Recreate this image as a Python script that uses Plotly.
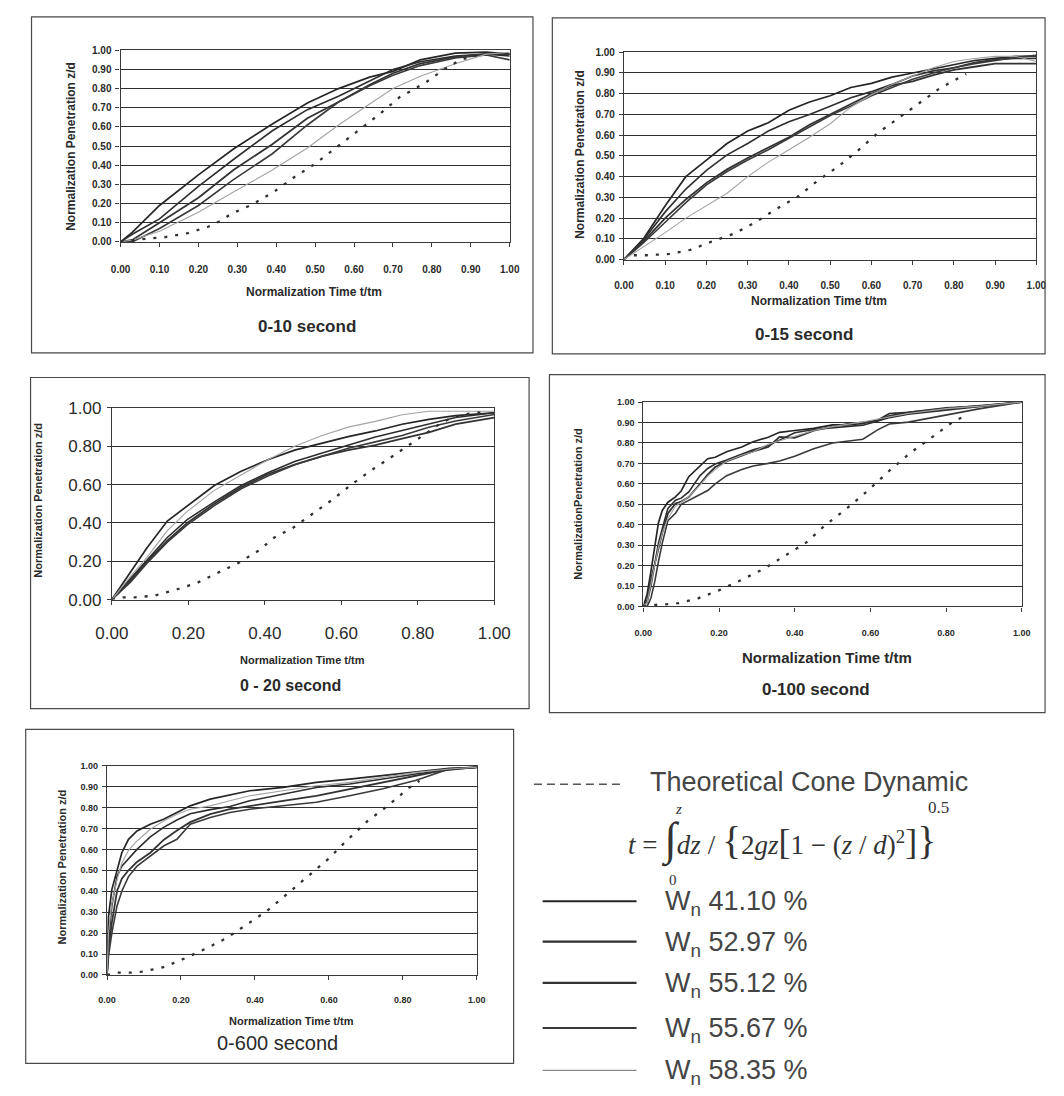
import plotly.graph_objects as go

W, H = 1064, 1096

# ---------------- data ----------------
series_names = ["W<sub>n</sub> 41.10 %", "W<sub>n</sub> 52.97 %", "W<sub>n</sub> 55.12 %",
                "W<sub>n</sub> 55.67 %", "W<sub>n</sub> 58.35 %"]
panel_titles = ["0-10 second", "0-15 second", "0 - 20 second", "0-100 second", "0-600 second"]

# Panel 1 : 0-10 second
p1_x = [0, 0.03, 0.10, 0.20, 0.29, 0.39, 0.48, 0.56, 0.64, 0.70, 0.77, 0.86, 0.94, 1.00]
p1_a = [0, 0.05, 0.19, 0.35, 0.485, 0.615, 0.725, 0.80, 0.86, 0.89, 0.95, 0.985, 0.99, 0.98]
p1_b = [0, 0.04, 0.12, 0.29, 0.43, 0.58, 0.69, 0.76, 0.84, 0.90, 0.94, 0.97, 0.98, 0.97]
p1_c = [0, 0.01, 0.10, 0.23, 0.375, 0.51, 0.645, 0.73, 0.82, 0.88, 0.93, 0.965, 0.98, 0.98]
p1_d = [0, 0.00, 0.07, 0.19, 0.325, 0.46, 0.61, 0.73, 0.815, 0.87, 0.92, 0.96, 0.975, 0.95]
p1_e = [0, 0.01, 0.055, 0.155, 0.26, 0.375, 0.49, 0.61, 0.72, 0.80, 0.865, 0.93, 0.98, 0.99]
p1_tx = [0, 0.043, 0.112, 0.173, 0.225, 0.255, 0.285, 0.337, 0.393, 0.445, 0.501, 0.557, 0.608,
         0.665, 0.717, 0.783, 0.830, 0.873, 0.916]
p1_ty = [0, 0.012, 0.024, 0.046, 0.079, 0.108, 0.147, 0.194, 0.260, 0.336, 0.409, 0.497, 0.581,
         0.666, 0.755, 0.83, 0.899, 0.950, 0.975]

# Panel 2 : 0-15 second
p2_x = [0, 0.047, 0.10, 0.15, 0.20, 0.25, 0.30, 0.35, 0.40, 0.45, 0.50, 0.55, 0.60, 0.65, 0.70,
        0.75, 0.80, 0.85, 0.90, 0.95, 1.00]
p2_a = [0, 0.10, 0.26, 0.40, 0.48, 0.56, 0.62, 0.66, 0.72, 0.76, 0.79, 0.83, 0.85, 0.88, 0.90,
        0.92, 0.94, 0.96, 0.97, 0.98, 0.98]
p2_b = [0, 0.095, 0.23, 0.34, 0.43, 0.505, 0.56, 0.62, 0.665, 0.70, 0.74, 0.78, 0.81, 0.845, 0.885,
        0.91, 0.925, 0.95, 0.965, 0.97, 0.97]
p2_c = [0, 0.087, 0.20, 0.29, 0.37, 0.435, 0.49, 0.54, 0.59, 0.65, 0.70, 0.75, 0.80, 0.84, 0.86,
        0.89, 0.915, 0.93, 0.945, 0.945, 0.945]
p2_d = [0, 0.08, 0.18, 0.275, 0.36, 0.425, 0.48, 0.53, 0.585, 0.64, 0.695, 0.74, 0.79, 0.83, 0.87,
        0.90, 0.925, 0.945, 0.96, 0.975, 0.985]
p2_e = [0, 0.06, 0.13, 0.20, 0.26, 0.32, 0.40, 0.47, 0.53, 0.59, 0.655, 0.735, 0.795, 0.845, 0.885,
        0.925, 0.955, 0.97, 0.98, 0.98, 0.955]
p2_tx = [0.024, 0.055, 0.110, 0.161, 0.213, 0.268, 0.319, 0.370, 0.421, 0.469, 0.520, 0.567, 0.614,
         0.669, 0.717, 0.768, 0.795, 0.83]
p2_ty = [0.021, 0.021, 0.027, 0.047, 0.087, 0.126, 0.180, 0.245, 0.303, 0.379, 0.450, 0.525, 0.608,
         0.687, 0.758, 0.829, 0.858, 0.895]

# Panel 3 : 0-20 second
p3_x = [0, 0.048, 0.092, 0.145, 0.197, 0.268, 0.338, 0.408, 0.478, 0.548, 0.618, 0.689, 0.759,
        0.829, 0.899, 1.0]
p3_a = [0, 0.139, 0.27, 0.41, 0.49, 0.595, 0.67, 0.73, 0.78, 0.815, 0.85, 0.88, 0.915, 0.94, 0.96, 0.975]
p3_b = [0, 0.105, 0.206, 0.324, 0.417, 0.51, 0.595, 0.662, 0.72, 0.764, 0.806, 0.848, 0.882, 0.916, 0.95, 0.975]
p3_c = [0, 0.10, 0.198, 0.307, 0.40, 0.50, 0.586, 0.654, 0.704, 0.747, 0.78, 0.806, 0.84, 0.873, 0.916, 0.95]
p3_d = [0, 0.09, 0.19, 0.30, 0.39, 0.49, 0.578, 0.645, 0.704, 0.747, 0.79, 0.823, 0.856, 0.899, 0.932, 0.966]
p3_e = [0, 0.12, 0.22, 0.36, 0.46, 0.57, 0.65, 0.73, 0.80, 0.855, 0.90, 0.93, 0.965, 0.983, 0.983, 0.983]
p3_tx = [0, 0.031, 0.061, 0.110, 0.171, 0.224, 0.276, 0.329, 0.382, 0.425, 0.474, 0.526, 0.579, 0.627,
         0.680, 0.732, 0.776, 0.829, 0.860, 0.89, 0.934, 0.978]
p3_ty = [0, 0.012, 0.012, 0.020, 0.054, 0.088, 0.139, 0.189, 0.253, 0.324, 0.375, 0.449, 0.525, 0.601,
         0.677, 0.745, 0.804, 0.878, 0.920, 0.95, 0.97, 0.98]

# Panel 4 : 0-100 second
p4_x = [0, 0.01, 0.02, 0.03, 0.04, 0.05, 0.065, 0.085, 0.10, 0.12, 0.15, 0.17, 0.19, 0.22, 0.26,
        0.29, 0.33, 0.36, 0.40, 0.45, 0.50, 0.54, 0.58, 0.62, 0.65, 0.70, 0.80, 0.89, 1.0]
p4_a = [0, 0.06, 0.17, 0.30, 0.41, 0.47, 0.51, 0.536, 0.565, 0.635, 0.69, 0.723, 0.73, 0.757, 0.78,
        0.806, 0.828, 0.852, 0.861, 0.871, 0.888, 0.888, 0.895, 0.912, 0.944, 0.950, 0.968, 0.984, 1.0]
p4_b = [0, 0.02, 0.10, 0.21, 0.31, 0.38, 0.48, 0.52, 0.53, 0.56, 0.64, 0.675, 0.697, 0.716, 0.746,
        0.767, 0.787, 0.815, 0.85, 0.866, 0.874, 0.88, 0.887, 0.907, 0.924, 0.941, 0.96, 0.977, 1.0]
p4_c = [0, 0.03, 0.13, 0.21, 0.29, 0.36, 0.455, 0.504, 0.513, 0.535, 0.60, 0.645, 0.682, 0.71, 0.738,
        0.759, 0.78, 0.83, 0.825, 0.86, 0.88, 0.893, 0.90, 0.91, 0.933, 0.95, 0.972, 0.98, 1.0]
p4_d = [0, 0.0, 0.04, 0.12, 0.22, 0.31, 0.42, 0.456, 0.50, 0.52, 0.548, 0.567, 0.60, 0.64, 0.67,
        0.687, 0.70, 0.712, 0.735, 0.772, 0.80, 0.808, 0.818, 0.865, 0.893, 0.902, 0.936, 0.968, 1.0]
p4_e = [0, 0.02, 0.11, 0.20, 0.29, 0.36, 0.43, 0.49, 0.51, 0.537, 0.595, 0.638, 0.67, 0.71, 0.74,
        0.756, 0.794, 0.81, 0.833, 0.861, 0.88, 0.89, 0.903, 0.917, 0.928, 0.944, 0.968, 0.98, 1.0]
p4_tx = [0, 0.033, 0.063, 0.093, 0.145, 0.201, 0.257, 0.318, 0.374, 0.430, 0.482, 0.538, 0.594,
         0.650, 0.706, 0.758, 0.819, 0.845]
p4_ty = [0, 0.008, 0.011, 0.016, 0.040, 0.080, 0.128, 0.184, 0.248, 0.312, 0.40, 0.48, 0.568,
         0.664, 0.752, 0.824, 0.904, 0.928]

# Panel 5 : 0-600 second
p5_x = [0, 0.004, 0.013, 0.027, 0.04, 0.058, 0.081, 0.117, 0.153, 0.189, 0.225, 0.279, 0.332,
        0.386, 0.476, 0.566, 0.656, 0.746, 0.836, 0.925, 1.0]
p5_a = [0, 0.28, 0.408, 0.504, 0.584, 0.648, 0.688, 0.72, 0.744, 0.776, 0.808, 0.84, 0.86, 0.88,
        0.896, 0.92, 0.936, 0.952, 0.971, 0.987, 0.992]
p5_b = [0, 0.16, 0.33, 0.47, 0.52, 0.555, 0.60, 0.66, 0.705, 0.74, 0.77, 0.79, 0.805, 0.832,
        0.864, 0.896, 0.912, 0.936, 0.96, 0.98, 0.992]
p5_c = [0, 0.12, 0.25, 0.40, 0.46, 0.50, 0.54, 0.584, 0.645, 0.69, 0.73, 0.768, 0.792, 0.808,
        0.832, 0.856, 0.888, 0.92, 0.952, 0.984, 0.992]
p5_d = [0, 0.09, 0.20, 0.33, 0.40, 0.47, 0.52, 0.568, 0.616, 0.648, 0.72, 0.752, 0.776, 0.792,
        0.81, 0.825, 0.856, 0.89, 0.93, 0.984, 0.992]
p5_e = [0, 0.20, 0.34, 0.456, 0.535, 0.595, 0.64, 0.696, 0.736, 0.768, 0.792, 0.808, 0.832, 0.856,
        0.88, 0.904, 0.92, 0.944, 0.968, 0.984, 0.992]
p5_tx = [0, 0.027, 0.063, 0.094, 0.153, 0.211, 0.270, 0.323, 0.377, 0.431, 0.485, 0.539, 0.597,
         0.647, 0.705, 0.759, 0.818, 0.845]
p5_ty = [0, 0.011, 0.011, 0.016, 0.037, 0.080, 0.128, 0.176, 0.24, 0.304, 0.384, 0.464, 0.552,
         0.64, 0.736, 0.808, 0.896, 0.928]

# ---------------- layout helpers ----------------
def X(p):
    return p / W


def Y(p):
    return 1 - p / H


panels = [
    dict(x=p1_x, ys=[p1_a, p1_b, p1_c, p1_d, p1_e], tx=p1_tx, ty=p1_ty,
         plot=(107, 42, 509, 237), box=(15, 8, 533, 350), xd=0.1, yd=0.1, tick=10, tstand=14,
         ytitle="Normalization Penetration z/d", yt=(55, 140, 12),
         xt=(307, 288, 12), st=(300, 323, 17), sw="bold"),
    dict(x=p2_x, ys=[p2_a, p2_b, p2_c, p2_d, p2_e], tx=p2_tx, ty=p2_ty,
         plot=(627, 44, 1053, 255), box=(553, 9, 1062, 351), xd=0.1, yd=0.1, tick=10, tstand=12,
         ytitle="Normalization Penetration z/d", yt=(582, 148, 12),
         xt=(828, 297, 12), st=(813, 331, 17), sw="bold"),
    dict(x=p3_x, ys=[p3_a, p3_b, p3_c, p3_d, p3_e], tx=p3_tx, ty=p3_ty,
         plot=(98, 406, 493, 601), box=(14, 375, 529, 712), xd=0.2, yd=0.2, tick=17, tstand=14,
         ytitle="Normalization Penetration z/d", yt=(22, 500, 11),
         xt=(295, 662, 11), st=(283, 688, 16), sw="bold"),
    dict(x=p4_x, ys=[p4_a, p4_b, p4_c, p4_d, p4_e], tx=p4_tx, ty=p4_ty,
         plot=(647, 400, 1038, 608), box=(550, 372, 1062, 716), xd=0.2, yd=0.1, tick=9, tstand=14,
         ytitle="NormalizationPenetration z/d", yt=(580, 503, 11),
         xt=(837, 660, 15), st=(825, 692, 17), sw="bold"),
    dict(x=p5_x, ys=[p5_a, p5_b, p5_c, p5_d, p5_e], tx=p5_tx, ty=p5_ty,
         plot=(93, 770, 475, 983), box=(9, 733, 513, 1073), xd=0.2, yd=0.1, tick=9, tstand=12,
         ytitle="Normalization Penetration z/d", yt=(46, 873, 11),
         xt=(284, 1030, 11), st=(269, 1052, 20), sw="normal"),
]

line_colors = ["#262626", "#2e2e2e", "#333333", "#3a3a3a", "#a3a3a3"]
line_widths = [1.7, 1.6, 1.8, 1.6, 1.1]

fig = go.Figure()
shapes = []
annotations = []
layout_axes = {}


def note(x, y, text, font, xanchor="center", yanchor="middle", **kw):
    annotations.append(dict(xref="paper", yref="paper", x=X(x), y=Y(y), text=text,
                            showarrow=False, font=font, xanchor=xanchor, yanchor=yanchor, **kw))


for i, p in enumerate(panels, start=1):
    xa = "x" if i == 1 else f"x{i}"
    ya = "y" if i == 1 else f"y{i}"
    x0, y0, x1, y1 = p["plot"]
    for k, ys in enumerate(p["ys"]):
        fig.add_trace(go.Scatter(x=p["x"], y=ys, mode="lines", xaxis=xa, yaxis=ya,
                                 line=dict(color=line_colors[k], width=line_widths[k]),
                                 name=series_names[k], showlegend=False))
    fig.add_trace(go.Scatter(x=p["tx"], y=p["ty"], mode="lines", xaxis=xa, yaxis=ya,
                             line=dict(color="#303030", width=2.3, dash="3px,8px"),
                             name="Theoretical Cone Dynamic", showlegend=False))
    tf = dict(family="Liberation Sans, Arial", size=p["tick"], color="#2a2a2a",
              weight="bold" if p["tick"] < 12 else "normal")
    kx = "xaxis" if i == 1 else f"xaxis{i}"
    ky = "yaxis" if i == 1 else f"yaxis{i}"
    layout_axes[kx] = dict(domain=[X(x0), X(x1)], anchor=ya, range=[0, 1], dtick=p["xd"],
                           tick0=0, tickformat=".2f", showgrid=False, zeroline=False,
                           showline=True, mirror=True, linecolor="#3a3a3a", linewidth=1.2,
                           ticks="outside", ticklen=4, tickcolor="#3a3a3a",
                           tickfont=tf, ticklabelstandoff=p["tstand"], fixedrange=True)
    layout_axes[ky] = dict(domain=[Y(y1), Y(y0)], anchor=xa, range=[0, 1], dtick=p["yd"],
                           tick0=0, tickformat=".2f", showgrid=True, gridcolor="#2f2f2f",
                           gridwidth=1, zeroline=False, showline=True, mirror=True,
                           linecolor="#3a3a3a", linewidth=1.2, ticks="outside", ticklen=4,
                           tickcolor="#3a3a3a", tickfont=tf, ticklabelstandoff=2,
                           fixedrange=True)
    bx0, by0, bx1, by1 = p["box"]
    shapes.append(dict(type="rect", xref="paper", yref="paper", x0=X(bx0), x1=X(bx1),
                       y0=Y(by1), y1=Y(by0), line=dict(color="#4a4a4a", width=1.2)))
    yx, yy, ys_ = p["yt"]
    note(yx, yy, p["ytitle"], dict(family="Liberation Sans, Arial", size=ys_, color="#2a2a2a",
                                   weight="bold"), textangle=-90)
    tx_, ty_, ts_ = p["xt"]
    note(tx_, ty_, "Normalization Time t/tm",
         dict(family="Liberation Sans, Arial", size=ts_, color="#2a2a2a", weight="bold"))
    sx, sy, ss = p["st"]
    note(sx, sy, panel_titles[i - 1],
         dict(family="Liberation Sans, Arial", size=ss, color="#2a2a2a", weight=p["sw"]))

# ---------------- hand-drawn legend ----------------
leg_font = dict(family="Liberation Sans, Arial", size=27, color="#454545")
shapes.append(dict(type="line", xref="paper", yref="paper", x0=X(534), x1=X(623), y0=Y(789),
                   y1=Y(789), line=dict(color="#555555", width=1.6, dash="8px,5px")))
note(652, 787, "Theoretical Cone Dynamic", leg_font, xanchor="left")

serif = dict(family="Liberation Serif, Times New Roman", size=27, color="#333333")
formula = ("<i>t</i> = <span style='font-size:46px'>∫</span><i>dz</i> / "
           "<span style='font-size:40px'>{</span>2<i>gz</i>"
           "<span style='font-size:36px'>[</span>1 − (<i>z</i> / <i>d</i>)<sup>2</sup>"
           "<span style='font-size:36px'>]</span><span style='font-size:40px'>}</span>")
note(629, 846, formula, serif, xanchor="left")
small_serif = dict(family="Liberation Serif, Times New Roman", size=15, color="#333333")
note(683, 814, "<i>z</i>", small_serif)
note(678, 886, "0", small_serif)
note(952, 813, "0.5", dict(family="Liberation Serif, Times New Roman", size=17, color="#333333"))

legend_rows = [908, 949, 991, 1037, 1080]
for k, ry in enumerate(legend_rows):
    shapes.append(dict(type="line", xref="paper", yref="paper", x0=X(543), x1=X(640), y0=Y(ry),
                       y1=Y(ry), line=dict(color=line_colors[k] if k < 4 else "#8a8a8a",
                                           width=2.2 if k < 4 else 1.2)))
    note(667, ry + 2, series_names[k], leg_font, xanchor="left")

fig.update_layout(width=W, height=H, margin=dict(l=0, r=0, t=0, b=0),
                  paper_bgcolor="white", plot_bgcolor="white", showlegend=False,
                  shapes=shapes, annotations=annotations, **layout_axes)

fig.write_html("out.html")
